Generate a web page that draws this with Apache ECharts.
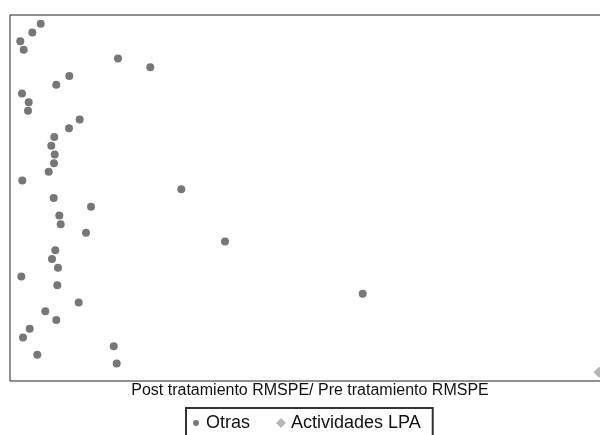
<!DOCTYPE html>
<html>
<head>
<meta charset="utf-8">
<script src="https://cdn.jsdelivr.net/npm/echarts@6/dist/echarts.min.js"></script>
<style>
  html, body { margin: 0; padding: 0; background: #fff; overflow: hidden; }
  /* plot runs past the right edge of the window, as in the original */
  #chart { width: 610px; height: 435px; }
</style>
</head>
<body>
<div id="chart"></div>
<script>
// ratio post/pre RMSPE, listed from top row to bottom row
const otrasRatio = [3.07, 2.23, 1.03, 1.37, 10.8, 14.03, 5.93, 4.63, 1.2, 1.87,
  1.8, 6.97, 5.9, 4.43, 4.13, 4.47, 4.4, 3.87, 1.23, 17.13,
  4.37, 8.1, 4.93, 5.07, 7.6, 21.5, 4.53, 4.2, 4.8, 1.13,
  4.73, 35.27, 6.87, 3.53, 4.63, 1.97, 1.3, 10.37, 2.73, 10.67]
const lpaRatio = [58.9]

const otrasData = otrasRatio.map((v, i) => [v, i + 1])
const lpaData = lpaRatio.map((v, i) => [v, otrasRatio.length + i + 1])

// small dot inside a 10x10 box so it sits smaller than the diamond in the legend
const smallDot = 'path://M0,0M10,10M5,2A3,3,0,1,1,4.99,2Z'

const chart = echarts.init(document.getElementById('chart'))

chart.setOption({
  animation: false,
  textStyle: { fontFamily: 'Liberation Sans, Arial, sans-serif' },
  grid: {
    left: 10,
    right: 0,
    top: 15,
    bottom: 54,
    show: true,
    borderColor: '#222',
    borderWidth: 1
  },
  xAxis: {
    type: 'value',
    min: 0,
    max: 60,
    name: 'Post tratamiento RMSPE/ Pre tratamiento RMSPE',
    nameLocation: 'middle',
    nameGap: 2,
    nameTextStyle: { fontSize: 16, color: '#111', verticalAlign: 'top' },
    axisLine: { show: false },
    axisTick: { show: false },
    axisLabel: { show: false },
    splitLine: { show: false }
  },
  yAxis: {
    type: 'value',
    min: 0,
    max: 42,
    inverse: true,
    axisLine: { show: false },
    axisTick: { show: false },
    axisLabel: { show: false },
    splitLine: { show: false }
  },
  legend: {
    left: 186,
    top: 408,
    orient: 'horizontal',
    borderColor: '#333',
    borderWidth: 2,
    padding: [6, 12, 8, 5],
    itemWidth: 10,
    itemHeight: 10,
    itemGap: 26,
    textStyle: { fontSize: 18, color: '#111' },
    data: [
      { name: 'Otras', icon: smallDot, itemStyle: { color: '#555' } },
      { name: 'Actividades LPA', icon: 'diamond', itemStyle: { color: '#a6a6a6' } }
    ]
  },
  series: [
    {
      name: 'Otras',
      type: 'scatter',
      symbol: 'circle',
      symbolSize: 8,
      itemStyle: { color: '#555' },
      data: otrasData
    },
    {
      name: 'Actividades LPA',
      type: 'scatter',
      symbol: 'diamond',
      symbolSize: 11,
      itemStyle: { color: '#a3a3a3' },
      data: lpaData
    }
  ]
})
</script>
</body>
</html>
